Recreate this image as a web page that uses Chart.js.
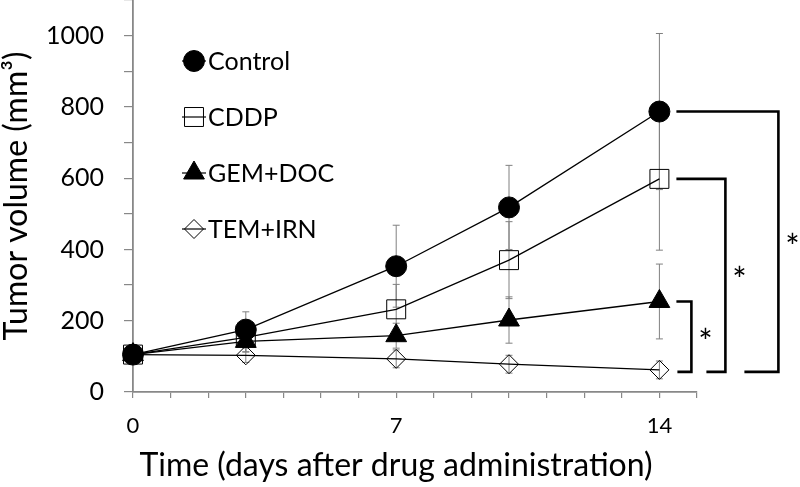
<!DOCTYPE html>
<html>
<head>
<meta charset="utf-8">
<script src="https://cdn.jsdelivr.net/npm/chart.js@4.4.0/dist/chart.umd.min.js"></script>
<style>
  html, body { margin:0; padding:0; background:#fff; }
  #wrap { width:800px; height:487px; position:relative; }
</style>
</head>
<body>
<div id="wrap"><canvas id="chart"></canvas></div>
<script>
// data (mean, SD)
const days = [0, 3, 7, 10, 14];
const seriesNames = ['Control', 'CDDP', 'GEM+DOC', 'TEM+IRN'];
const control   = [105, 175, 353, 518, 787];
const controlSd = [10, 50, 115, 118, 219];
const cddp      = [105, 153, 232, 370, 598];
const cddpSd    = [10, 40, 70, 108, 200];
const gemDoc    = [105, 142, 158, 202, 254];
const gemDocSd  = [10, 30, 35, 65, 105];
const temIrn    = [105, 103, 93, 78, 62];
const temIrnSd  = [8, 20, 25, 25, 25];
const xTickLabels = [0, 7, 14];
const yTickLabels = [0, 200, 400, 600, 800, 1000];
const xTitle = 'Time (days after drug administration)';
const yTitle = 'Tumor volume (mm³)';

const means = [control, cddp, gemDoc, temIrn];
const sds = [controlSd, cddpSd, gemDocSd, temIrnSd];
const markers = [
  { pointStyle:'circle',  radius:10.5, fill:'#000' },
  { pointStyle:'rect',    radius:13.4, fill:'rgba(0,0,0,0)' },
  { pointStyle:'triangle',radius:12,  fill:'#000' },
  { pointStyle:'rectRot', radius:9.5, fill:'rgba(0,0,0,0)' }
];
// significance brackets: upper series index vs TEM+IRN (index 3)
const sigPairs = [
  { top:0, vx:119, bx:85 },
  { top:1, vx:66,  bx:47 },
  { top:2, vx:32,  bx:18 }
];

Chart.defaults.font.family = 'Lato, "Open Sans", sans-serif';
Chart.defaults.color = '#000';

const errorBars = {
  id:'errorBars',
  beforeDatasetsDraw(chart){
    const {ctx, scales:{x, y}} = chart;
    ctx.save();
    ctx.strokeStyle = '#808080';
    ctx.lineWidth = 1;
    means.forEach((m, i)=>{
      m.forEach((v, j)=>{
        const px = x.getPixelForValue(days[j]);
        const y1 = y.getPixelForValue(v + sds[i][j]);
        const y0 = y.getPixelForValue(v - sds[i][j]);
        ctx.beginPath();
        ctx.moveTo(px, y0); ctx.lineTo(px, y1);
        ctx.moveTo(px-3.5, y0); ctx.lineTo(px+3.5, y0);
        ctx.moveTo(px-3.5, y1); ctx.lineTo(px+3.5, y1);
        ctx.stroke();
      });
    });
    ctx.restore();
  }
};

const extras = {
  id:'extras',
  afterDatasetsDraw(chart){
    const {ctx, scales:{x, y}} = chart;
    const last = days.length - 1;
    const x14 = x.getPixelForValue(days[last]);
    const yBot = y.getPixelForValue(temIrn[last]) + 2;
    ctx.save();
    // brackets
    ctx.strokeStyle = '#000';
    ctx.lineWidth = 2.6;
    ctx.font = '34px Lato, sans-serif';
    ctx.fillStyle = '#000';
    ctx.textAlign = 'center';
    ctx.textBaseline = 'middle';
    sigPairs.forEach(p=>{
      const yTop = y.getPixelForValue(means[p.top][last]);
      ctx.beginPath();
      ctx.moveTo(x14 + 17, yTop);
      ctx.lineTo(x14 + p.vx, yTop);
      ctx.lineTo(x14 + p.vx, yBot);
      ctx.lineTo(x14 + p.bx, yBot);
      ctx.stroke();
      ctx.fillText('*', x14 + p.vx + 14, (yTop + yBot)/2 + 6);
    });
    // x axis title (centred on the whole figure like the original)
    ctx.font = '32px Lato, sans-serif';
    ctx.fillText(xTitle, 396, 466);
    // legend
    ctx.font = '25px Lato, sans-serif';
    ctx.textAlign = 'left';
    seriesNames.forEach((name, i)=>{
      const ly = 61 + i*56;
      ctx.strokeStyle = '#000';
      ctx.lineWidth = 1.2;
      ctx.beginPath();
      ctx.moveTo(182, ly); ctx.lineTo(206, ly);
      ctx.stroke();
      ctx.fillStyle = markers[i].fill;
      ctx.lineWidth = 1;
      Chart.helpers.drawPoint(ctx, { pointStyle:markers[i].pointStyle, radius:markers[i].radius, rotation:0, borderWidth:1 }, 194, ly);
      ctx.fillStyle = '#000';
      ctx.fillText(name, 208, ly + 1);
    });
    ctx.restore();
  }
};

new Chart(document.getElementById('chart'), {
  type:'line',
  data:{
    datasets: means.map((m, i)=>({
      label: seriesNames[i],
      data: m.map((v, j)=>({ x:days[j], y:v })),
      borderColor:'#000',
      borderWidth:1.3,
      backgroundColor: markers[i].fill,
      pointBackgroundColor: markers[i].fill,
      pointBorderColor:'#000',
      pointBorderWidth:1,
      pointStyle: markers[i].pointStyle,
      pointRadius: markers[i].radius,
      pointHoverRadius: markers[i].radius,
      tension:0,
      fill:false,
      clip:false
    })).reverse()
  },
  options:{
    responsive:true,
    maintainAspectRatio:false,
    animation:false,
    layout:{ autoPadding:false, padding:{ top:0, right:103, bottom:0, left:0 } },
    plugins:{ legend:{ display:false }, tooltip:{ enabled:false } },
    scales:{
      x:{
        type:'linear', min:0, max:15,
        afterFit(s){ s.height = 95; s.paddingLeft = 0; s.paddingRight = 0; },
        border:{ color:'#888', width:1.8 },
        grid:{ drawOnChartArea:false, drawTicks:true, tickLength:6, color:'#888', lineWidth:1.2 },
        ticks:{ stepSize:1, autoSkip:false, maxRotation:0, padding:15, font:{ size:22 },
          callback:v=> xTickLabels.includes(v) ? String(v) : '' },
        title:{ display:false }
      },
      y:{
        min:0, max:1100,
        afterFit(s){ s.width = 133; s.paddingTop = 0; s.paddingBottom = 0; },
        border:{ color:'#888', width:1.8 },
        grid:{ drawOnChartArea:false, drawTicks:true, tickLength:9, color:'#888', lineWidth:1.2 },
        ticks:{ stepSize:100, autoSkip:false, padding:20, font:{ size:25 },
          callback:v=> yTickLabels.includes(v) ? String(v) : '' },
        title:{ display:true, text:yTitle, font:{ size:32, lineHeight:1 }, padding:{ top:1, bottom:0 } }
      }
    }
  },
  plugins:[errorBars, extras]
});
</script>
</body>
</html>
